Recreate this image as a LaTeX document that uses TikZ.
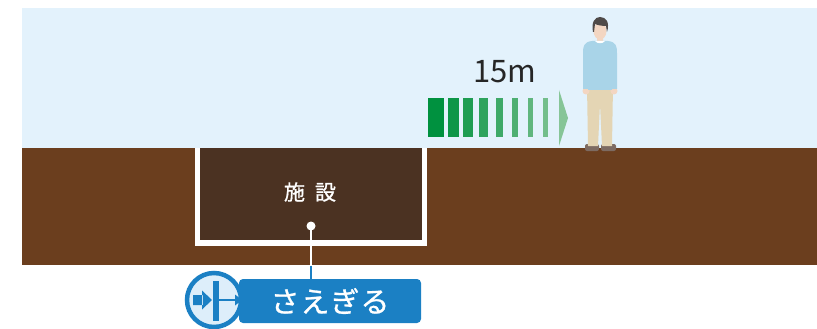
\documentclass[tikz,border=0pt]{standalone}
\usepackage{fontspec}
\newfontfamily\jpfont{Noto Sans CJK JP}
\newfontfamily\jpmid{Noto Sans CJK JP}[FakeBold=0.9]
\definecolor{sky}{HTML}{E3F2FC}
\definecolor{soil}{HTML}{6B3E1E}
\definecolor{pit}{HTML}{4B3222}
\definecolor{tagblue}{HTML}{1B80C4}
\definecolor{iconbg}{HTML}{DDEEFA}
\definecolor{arrowdark}{HTML}{00913F}
\definecolor{arrowlight}{HTML}{86C597}
\definecolor{sweater}{HTML}{A9D4E8}
\definecolor{pants}{HTML}{E4D5B4}
\definecolor{skin}{HTML}{F3D6C2}
\definecolor{hair}{HTML}{4F4A48}
\definecolor{shoe}{HTML}{7D6B62}
\begin{document}
\begin{tikzpicture}[x=1pt,y=-1pt,line cap=butt,
  tagbox/.style={fill=tagblue,rounded corners=4pt,minimum width=182pt,minimum height=44pt,
    inner sep=0pt,text=white,font=\jpmid\fontsize{29}{29}\selectfont},
  iconring/.style={circle,draw=tagblue,line width=4.5pt,fill=iconbg,minimum size=54pt,inner sep=0pt},
  pitlabel/.style={text=white,font=\jpmid\fontsize{21}{21}\selectfont}]
  \useasboundingbox (0,0) rectangle (817,329);
  % sky and ground
  \fill[sky] (22,8) rectangle (817,148);
  \fill[soil] (22,148) rectangle (817,265);
  % the facility in the ground
  \fill[pit] (200,148) rectangle (422,240);
  \draw[white,line width=5.5pt] (197.5,148) |- (424.5,243) -- (424.5,148);
  \node[pitlabel] (pitname) at (310,192) {施\hspace{10pt}設};
  \coordinate (dot) at (311,226);
  % tag below
  \node[tagbox] (tag) at (330,301) {さ\hspace{1pt}え\hspace{1pt}ぎ\hspace{1pt}る};
  \draw[tagblue,line width=2pt] (dot) -- (dot |- tag.north);
  \begin{scope}
    \clip (22,148) rectangle (817,265);
    \draw[white,line width=2pt] (dot) -- (dot |- tag.north);
  \end{scope}
  \fill[white] (dot) circle (4.5);
  \node[iconring] (icon) at (214,300) {};
  \begin{scope}[shift={(icon.center)}]
    \fill[tagblue] (-21,-5) rectangle (-11,5) (-12,-9.5) -- (-2,0) -- (-12,9.5) -- cycle;
    \fill[tagblue] (-1,-19) rectangle (4.5,21);
    \draw[tagblue,line width=2.5pt] (4,0) -- (22,0);
    \fill[tagblue] (21,-5.5) -- (28,0) -- (21,5.5) -- cycle;
  \end{scope}
  % distance arrow
  \node[text=black!85,font=\jpfont\fontsize{31}{31}\selectfont] (dist) at (505,72) {15m};
  \foreach \l/\r/\p in {428/444/100,448/459/90,463/473/78,479/488/66,496/503/54,512/518/42,528/533/28,543/548/14}
    \fill[arrowdark!\p!arrowlight] (\l,98) rectangle (\r,137);
  \fill[arrowlight] (559,90) -- (568,118) -- (559,146) -- cycle;
  % person
  \fill[shoe,rounded corners=2pt] (585,144) rectangle (599,151) (601,144) rectangle (616,151);
  \fill[pants] (587,86) -- (613,86) -- (612,146) -- (602,146) -- (600,104) -- (598,146) -- (588,146) -- cycle;
  \fill[skin] (586,91) circle (3.5) (614,91) circle (3.5) (597,36) rectangle (603,43);
  \fill[sweater] (592,41) -- (608,41) .. controls (616,42) and (617,46) .. (617,53) -- (617,89)
    -- (611,89) -- (611,62) -- (612,90) -- (588,90) -- (589,62) -- (589,89) -- (583,89)
    -- (583,53) .. controls (583,46) and (584,42) .. (592,41) -- cycle;
  \fill[white] (595,41) .. controls (597,44) and (603,44) .. (605,41) -- cycle;
  \fill[skin] (600,31) ellipse (6.5 and 8.5);
  \fill[hair] (593,32) .. controls (591,22) and (595,17) .. (600,17) .. controls (606,17) and (610,22) .. (607,32)
    -- (606,26) .. controls (602,26) and (597,25) .. (595,24) -- (594,32) -- cycle;
\end{tikzpicture}
\end{document}
